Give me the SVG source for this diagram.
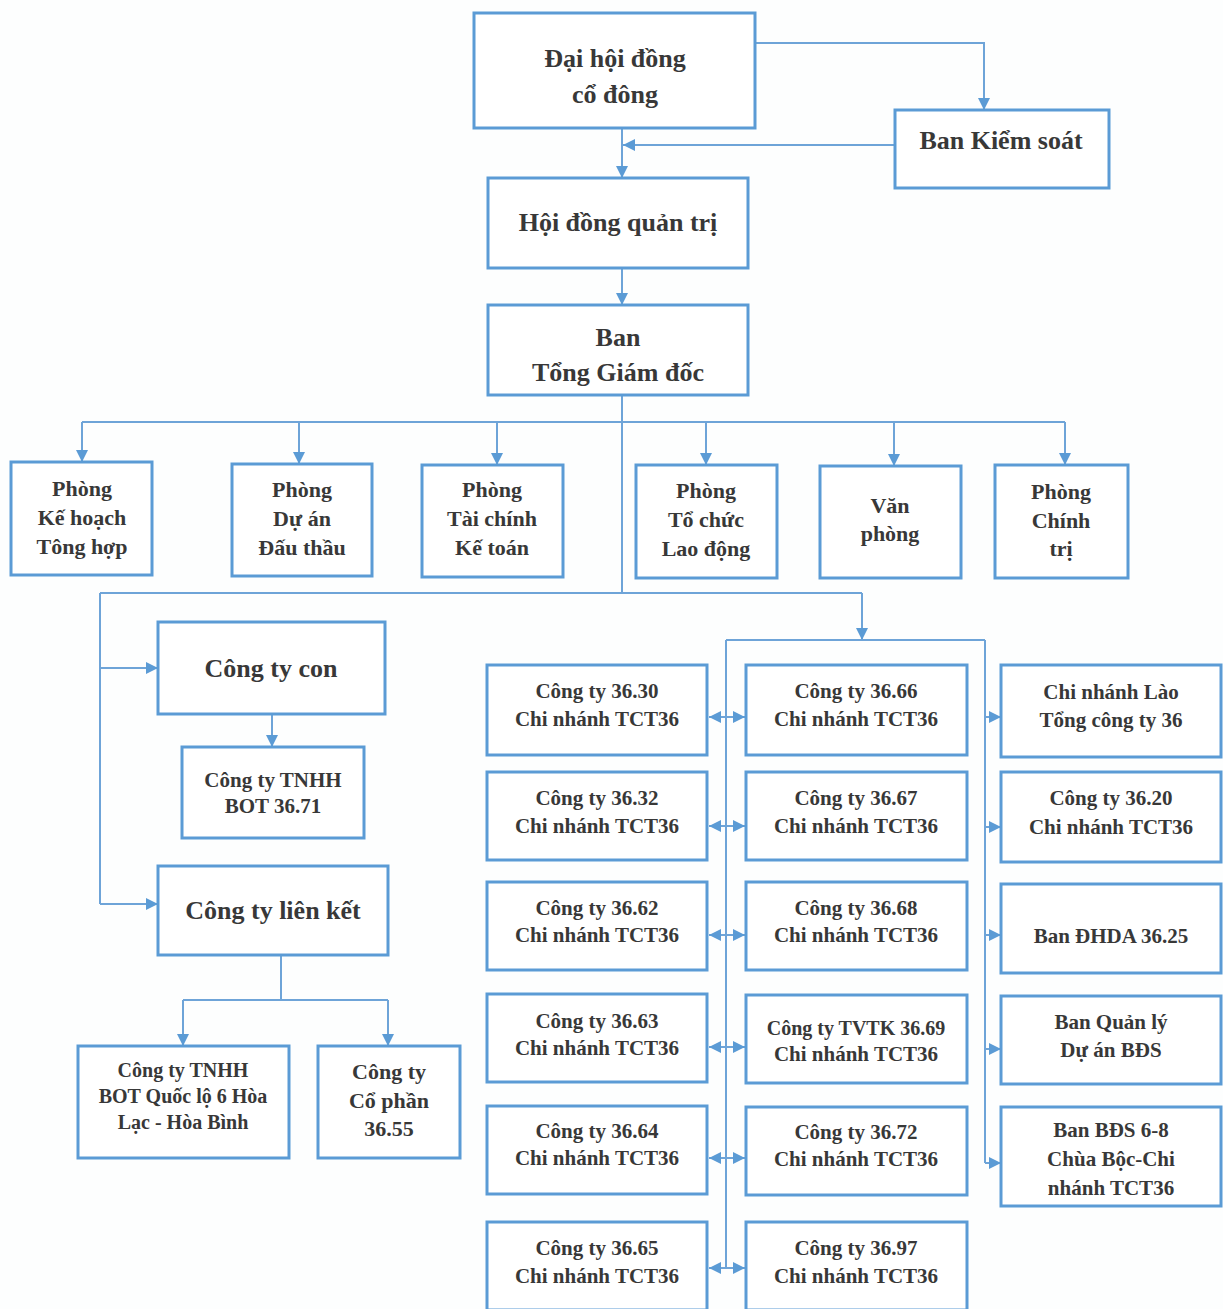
<svg xmlns="http://www.w3.org/2000/svg" width="1223" height="1309" viewBox="0 0 1223 1309">
<style>
.box{fill:#fff;stroke:#5b9bd5;stroke-width:3}
.c{fill:none;stroke:#6ea4d8;stroke-width:2}
.a{marker-end:url(#ah)}
.d{marker-start:url(#ah);marker-end:url(#ah)}
text{font-family:"Liberation Serif","Times New Roman",serif;font-weight:bold;fill:#383838;text-anchor:middle}
.t26{font-size:26px}
.t22{font-size:22px}
.t21{font-size:21px}
.t20{font-size:20px}
</style>
<defs>
<marker id="ah" viewBox="0 0 10 10" refX="10" refY="5" markerWidth="12" markerHeight="12" markerUnits="userSpaceOnUse" orient="auto-start-reverse">
<path d="M0,0 L10,5 L0,10 z" fill="#5b9bd5"/>
</marker>
</defs>
<rect width="1223" height="1309" fill="#fdfefe"/>
<g id="connectors">
<path class="c a" d="M755,43 H984 V110"/>
<path class="c a" d="M622,128 V178"/>
<path class="c a" d="M895,145 H623"/>
<path class="c a" d="M622,268 V305"/>
<path class="c" d="M622,395 V593"/>
<path class="c" d="M82,422 H1065"/>
<path class="c a" d="M82,422 V462"/>
<path class="c a" d="M299,422 V464"/>
<path class="c a" d="M497,422 V465"/>
<path class="c a" d="M706,422 V465"/>
<path class="c a" d="M894,422 V466"/>
<path class="c a" d="M1065,422 V465"/>
<path class="c" d="M100,593 H862"/>
<path class="c a" d="M862,593 V640"/>
<path class="c" d="M100,593 V904"/>
<path class="c a" d="M100,668 H158"/>
<path class="c a" d="M100,904 H158"/>
<path class="c a" d="M272,714 V747"/>
<path class="c" d="M281,955 V1000 M183,1000 H388"/>
<path class="c a" d="M183,1000 V1046"/>
<path class="c a" d="M388,1000 V1046"/>
<path class="c" d="M726,640 H985 M726,640 V1268 M985,640 V1163"/>
<path class="c d" d="M709,717 H745"/>
<path class="c d" d="M709,826 H745"/>
<path class="c d" d="M709,935 H745"/>
<path class="c d" d="M709,1047 H745"/>
<path class="c d" d="M709,1158 H745"/>
<path class="c d" d="M709,1268 H745"/>
<path class="c a" d="M985,717 H1001"/>
<path class="c a" d="M985,827 H1001"/>
<path class="c a" d="M985,935 H1001"/>
<path class="c a" d="M985,1049 H1001"/>
<path class="c a" d="M985,1163 H1001"/>
</g>
<g id="dhdcd"><rect class="box" x="474" y="13" width="281" height="115"/><text class="t26" x="615" y="67">Đại hội đồng</text><text class="t26" x="615" y="103">cổ đông</text></g>
<g id="bks"><rect class="box" x="895" y="110" width="214" height="78"/><text class="t26" x="1001" y="149">Ban Kiểm soát</text></g>
<g id="hdqt"><rect class="box" x="488" y="178" width="260" height="90"/><text class="t26" x="618" y="231">Hội đồng quản trị</text></g>
<g id="tgd"><rect class="box" x="488" y="305" width="260" height="90"/><text class="t26" x="618" y="346">Ban</text><text class="t26" x="618" y="381">Tổng Giám đốc</text></g>
<g id="p1"><rect class="box" x="11" y="462" width="141" height="113"/><text class="t22" x="82" y="496">Phòng</text><text class="t22" x="82" y="525">Kế hoạch</text><text class="t22" x="82" y="554">Tông hợp</text></g>
<g id="p2"><rect class="box" x="232" y="464" width="140" height="112"/><text class="t22" x="302" y="497">Phòng</text><text class="t22" x="302" y="526">Dự án</text><text class="t22" x="302" y="555">Đấu thầu</text></g>
<g id="p3"><rect class="box" x="422" y="465" width="141" height="112"/><text class="t22" x="492" y="497">Phòng</text><text class="t22" x="492" y="526">Tài chính</text><text class="t22" x="492" y="555">Kế toán</text></g>
<g id="p4"><rect class="box" x="636" y="465" width="141" height="113"/><text class="t22" x="706" y="498">Phòng</text><text class="t22" x="706" y="527">Tổ chức</text><text class="t22" x="706" y="556">Lao động</text></g>
<g id="p5"><rect class="box" x="820" y="466" width="141" height="112"/><text class="t22" x="890" y="513">Văn</text><text class="t22" x="890" y="541">phòng</text></g>
<g id="p6"><rect class="box" x="995" y="465" width="133" height="113"/><text class="t22" x="1061" y="499">Phòng</text><text class="t22" x="1061" y="528">Chính</text><text class="t22" x="1061" y="556">trị</text></g>
<g id="ctcon"><rect class="box" x="158" y="622" width="227" height="92"/><text class="t26" x="271" y="677">Công ty con</text></g>
<g id="bot3671"><rect class="box" x="182" y="747" width="182" height="91"/><text class="t21" x="273" y="787">Công ty TNHH</text><text class="t21" x="273" y="813">BOT 36.71</text></g>
<g id="ctlk"><rect class="box" x="158" y="866" width="230" height="89"/><text class="t26" x="273" y="919">Công ty liên kết</text></g>
<g id="botql6"><rect class="box" x="78" y="1046" width="211" height="112"/><text class="t20" x="183" y="1077">Công ty TNHH</text><text class="t20" x="183" y="1103">BOT Quốc lộ 6 Hòa</text><text class="t20" x="183" y="1129">Lạc - Hòa Bình</text></g>
<g id="cp3655"><rect class="box" x="318" y="1046" width="142" height="112"/><text class="t22" x="389" y="1079">Công ty</text><text class="t22" x="389" y="1108">Cổ phần</text><text class="t22" x="389" y="1136">36.55</text></g>
<g id="c3630"><rect class="box" x="487" y="665" width="220" height="90"/><text class="t21" x="597" y="698">Công ty 36.30</text><text class="t21" x="597" y="726">Chi nhánh TCT36</text></g>
<g id="c3632"><rect class="box" x="487" y="772" width="220" height="88"/><text class="t21" x="597" y="805">Công ty 36.32</text><text class="t21" x="597" y="833">Chi nhánh TCT36</text></g>
<g id="c3662"><rect class="box" x="487" y="882" width="220" height="88"/><text class="t21" x="597" y="915">Công ty 36.62</text><text class="t21" x="597" y="942">Chi nhánh TCT36</text></g>
<g id="c3663"><rect class="box" x="487" y="994" width="220" height="88"/><text class="t21" x="597" y="1028">Công ty 36.63</text><text class="t21" x="597" y="1055">Chi nhánh TCT36</text></g>
<g id="c3664"><rect class="box" x="487" y="1106" width="220" height="88"/><text class="t21" x="597" y="1138">Công ty 36.64</text><text class="t21" x="597" y="1165">Chi nhánh TCT36</text></g>
<g id="c3665"><rect class="box" x="487" y="1222" width="220" height="88"/><text class="t21" x="597" y="1255">Công ty 36.65</text><text class="t21" x="597" y="1283">Chi nhánh TCT36</text></g>
<g id="c3666"><rect class="box" x="746" y="665" width="221" height="90"/><text class="t21" x="856" y="698">Công ty 36.66</text><text class="t21" x="856" y="726">Chi nhánh TCT36</text></g>
<g id="c3667"><rect class="box" x="746" y="772" width="221" height="88"/><text class="t21" x="856" y="805">Công ty 36.67</text><text class="t21" x="856" y="833">Chi nhánh TCT36</text></g>
<g id="c3668"><rect class="box" x="746" y="882" width="221" height="88"/><text class="t21" x="856" y="915">Công ty 36.68</text><text class="t21" x="856" y="942">Chi nhánh TCT36</text></g>
<g id="c3669"><rect class="box" x="746" y="995" width="221" height="88"/><text class="t20" x="856" y="1035">Công ty TVTK 36.69</text><text class="t21" x="856" y="1061">Chi nhánh TCT36</text></g>
<g id="c3672"><rect class="box" x="746" y="1107" width="221" height="88"/><text class="t21" x="856" y="1139">Công ty 36.72</text><text class="t21" x="856" y="1166">Chi nhánh TCT36</text></g>
<g id="c3697"><rect class="box" x="746" y="1222" width="221" height="88"/><text class="t21" x="856" y="1255">Công ty 36.97</text><text class="t21" x="856" y="1283">Chi nhánh TCT36</text></g>
<g id="lao"><rect class="box" x="1001" y="665" width="220" height="92"/><text class="t21" x="1111" y="699">Chi nhánh Lào</text><text class="t21" x="1111" y="727">Tổng công ty 36</text></g>
<g id="c3620"><rect class="box" x="1001" y="772" width="220" height="90"/><text class="t21" x="1111" y="805">Công ty 36.20</text><text class="t21" x="1111" y="834">Chi nhánh TCT36</text></g>
<g id="dhda"><rect class="box" x="1001" y="884" width="220" height="89"/><text class="t21" x="1111" y="943">Ban ĐHDA 36.25</text></g>
<g id="bqlda"><rect class="box" x="1001" y="996" width="220" height="88"/><text class="t21" x="1111" y="1029">Ban Quản lý</text><text class="t21" x="1111" y="1057">Dự án BĐS</text></g>
<g id="bds68"><rect class="box" x="1001" y="1107" width="220" height="99"/><text class="t21" x="1111" y="1137">Ban BĐS 6-8</text><text class="t21" x="1111" y="1166">Chùa Bộc-Chi</text><text class="t21" x="1111" y="1195">nhánh TCT36</text></g>
</svg>
